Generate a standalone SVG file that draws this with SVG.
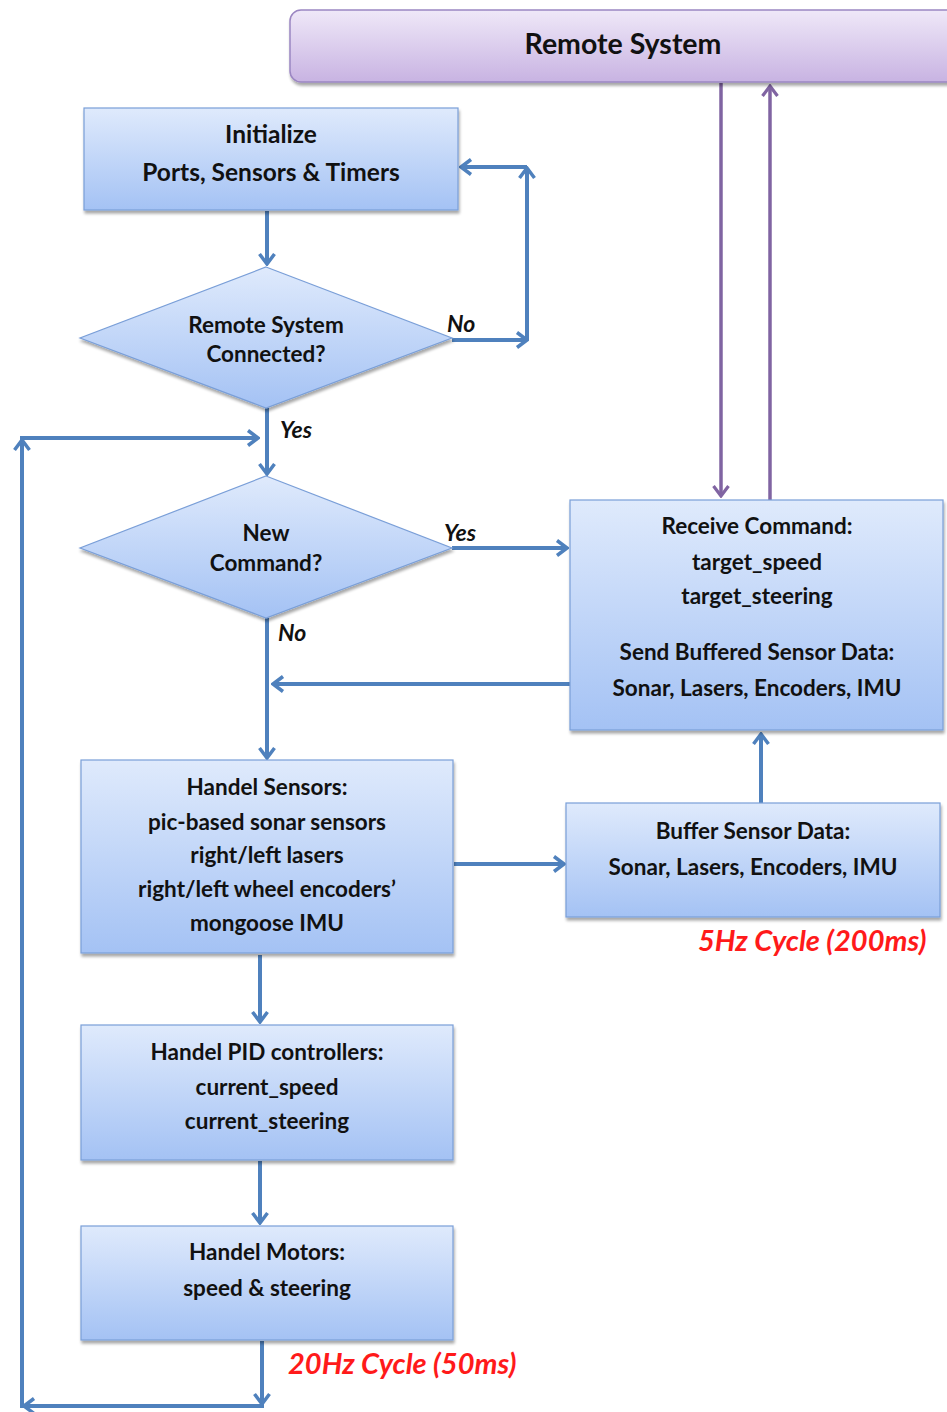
<svg xmlns="http://www.w3.org/2000/svg" width="947" height="1412" viewBox="0 0 947 1412">
  <style>
    .box { fill: url(#blueFill); stroke: #7a9fd8; stroke-width: 1.2; filter: url(#shadow); }
    .remote { fill: url(#purpleFill); stroke: #9b86c2; stroke-width: 1.5; filter: url(#shadow); }
    .lbl { font-family: Lato, "Liberation Sans", sans-serif; font-weight: 700; fill: #111; text-anchor: middle; }
    .big { font-size: 28.5px; }
    .t22 { font-size: 24.5px; }
    .t20 { font-size: 22.5px; }
    .yn { font-family: Lato, "Liberation Sans", sans-serif; font-weight: 700; font-style: italic; font-size: 23px; fill: #111; }
    .cycle { font-family: Lato, "Liberation Sans", sans-serif; font-weight: 700; font-style: italic; font-size: 29px; fill: #ff1a1a; }
    .flow { stroke: #4f81bd; stroke-width: 4; fill: none; marker-end: url(#arrowBlue); }
    .link { stroke: #8064a2; stroke-width: 3.5; fill: none; marker-end: url(#arrowPurple); }
  </style>
  <defs>
    <linearGradient id="blueFill" x1="0" y1="0" x2="0" y2="1">
      <stop offset="0" stop-color="#dfeafc"/>
      <stop offset="1" stop-color="#a4c2f4"/>
    </linearGradient>
    <linearGradient id="purpleFill" x1="0" y1="0" x2="0" y2="1">
      <stop offset="0" stop-color="#efe8f8"/>
      <stop offset="1" stop-color="#c8b3e2"/>
    </linearGradient>
    <filter id="shadow" x="-5%" y="-5%" width="110%" height="115%">
      <feGaussianBlur in="SourceAlpha" stdDeviation="1.5"/>
      <feOffset dx="1" dy="3" result="b"/>
      <feComponentTransfer><feFuncA type="linear" slope="0.35"/></feComponentTransfer>
      <feMerge><feMergeNode/><feMergeNode in="SourceGraphic"/></feMerge>
    </filter>
    <marker id="arrowBlue" viewBox="0 0 14 18" refX="12" refY="9" markerWidth="14" markerHeight="18" markerUnits="userSpaceOnUse" orient="auto">
      <path d="M2,1.5 L12,9 L2,16.5" fill="none" stroke="#4f81bd" stroke-width="3.5" stroke-linejoin="miter"/>
    </marker>
    <marker id="arrowPurple" viewBox="0 0 14 18" refX="12" refY="9" markerWidth="14" markerHeight="18" markerUnits="userSpaceOnUse" orient="auto">
      <path d="M2,1.5 L12,9 L2,16.5" fill="none" stroke="#8064a2" stroke-width="3.2" stroke-linejoin="miter"/>
    </marker>
  </defs>

  <rect width="947" height="1412" fill="#ffffff"/>

  <!-- connectors -->
  <g id="connectors">
    <!-- remote system link -->
    <line class="link" x1="721" y1="83" x2="721" y2="496"/>
    <line class="link" x1="770" y1="500" x2="770" y2="86"/>
    <!-- init to connection check -->
    <line class="flow" x1="267" y1="211" x2="267" y2="264"/>
    <!-- not connected: retry initialisation -->
    <line class="flow" x1="452" y1="340" x2="527" y2="340"/>
    <line class="flow" x1="527" y1="340" x2="527" y2="168"/>
    <line class="flow" x1="527" y1="167" x2="461" y2="167"/>
    <!-- connected -->
    <line class="flow" x1="267" y1="408" x2="267" y2="474"/>
    <!-- new command -->
    <line class="flow" x1="452" y1="548" x2="567" y2="548"/>
    <line class="flow" x1="267" y1="618" x2="267" y2="758"/>
    <line class="flow" x1="570" y1="684" x2="273" y2="684"/>
    <!-- sensors to buffer -->
    <line class="flow" x1="454" y1="864" x2="564" y2="864"/>
    <line class="flow" x1="761" y1="803" x2="761" y2="734"/>
    <!-- main loop -->
    <line class="flow" x1="260" y1="955" x2="260" y2="1022"/>
    <line class="flow" x1="260" y1="1161" x2="260" y2="1223"/>
    <line class="flow" x1="262" y1="1341" x2="262" y2="1404"/>
    <line class="flow" x1="264" y1="1406" x2="24" y2="1406"/>
    <line class="flow" x1="22" y1="1408" x2="22" y2="440"/>
    <line class="flow" x1="20" y1="438" x2="258" y2="438"/>
  </g>

  <g id="remote-system">
    <rect class="remote" x="290" y="10" width="700" height="72" rx="11"/>
    <text class="lbl big" x="623" y="54">Remote System</text>
  </g>

  <g id="initialize">
    <rect class="box" x="84" y="108" width="374" height="102"/>
    <text class="lbl t22" x="271" y="143">Initialize</text>
    <text class="lbl t22" x="271" y="181">Ports, Sensors &amp; Timers</text>
  </g>

  <g id="connected-check">
    <polygon class="box" points="266,267 452,338 266,408 80,338"/>
    <text class="lbl t20" x="266" y="333">Remote System</text>
    <text class="lbl t20" x="266" y="362">Connected?</text>
    <text class="yn" x="447" y="332">No</text>
    <text class="yn" x="280" y="438">Yes</text>
  </g>

  <g id="command-check">
    <polygon class="box" points="266,476 452,548 266,618 80,548"/>
    <text class="lbl t20" x="266" y="541">New</text>
    <text class="lbl t20" x="266" y="571">Command?</text>
    <text class="yn" x="444" y="541">Yes</text>
    <text class="yn" x="278" y="641">No</text>
  </g>

  <g id="receive-command">
    <rect class="box" x="570" y="500" width="373" height="230"/>
    <text class="lbl t20" x="757" y="534">Receive Command:</text>
    <text class="lbl t20" x="757" y="570">target_speed</text>
    <text class="lbl t20" x="757" y="604">target_steering</text>
    <text class="lbl t20" x="757" y="660">Send Buffered Sensor Data:</text>
    <text class="lbl t20" x="757" y="696">Sonar, Lasers, Encoders, IMU</text>
  </g>

  <g id="handle-sensors">
    <rect class="box" x="81" y="760" width="372" height="193"/>
    <text class="lbl t20" x="267" y="795">Handel Sensors:</text>
    <text class="lbl t20" x="267" y="830">pic-based sonar sensors</text>
    <text class="lbl t20" x="267" y="863">right/left lasers</text>
    <text class="lbl t20" x="267" y="897">right/left wheel encoders’</text>
    <text class="lbl t20" x="267" y="931">mongoose IMU</text>
  </g>

  <g id="buffer-data">
    <rect class="box" x="566" y="803" width="374" height="114"/>
    <text class="lbl t20" x="753" y="839">Buffer Sensor Data:</text>
    <text class="lbl t20" x="753" y="875">Sonar, Lasers, Encoders, IMU</text>
    <text class="cycle" x="698" y="951">5Hz Cycle (200ms)</text>
  </g>

  <g id="pid-controllers">
    <rect class="box" x="81" y="1025" width="372" height="135"/>
    <text class="lbl t20" x="267" y="1060">Handel PID controllers:</text>
    <text class="lbl t20" x="267" y="1095">current_speed</text>
    <text class="lbl t20" x="267" y="1129">current_steering</text>
  </g>

  <g id="handle-motors">
    <rect class="box" x="81" y="1226" width="372" height="114"/>
    <text class="lbl t20" x="267" y="1260">Handel Motors:</text>
    <text class="lbl t20" x="267" y="1296">speed &amp; steering</text>
    <text class="cycle" x="288" y="1374">20Hz Cycle (50ms)</text>
  </g>
</svg>
